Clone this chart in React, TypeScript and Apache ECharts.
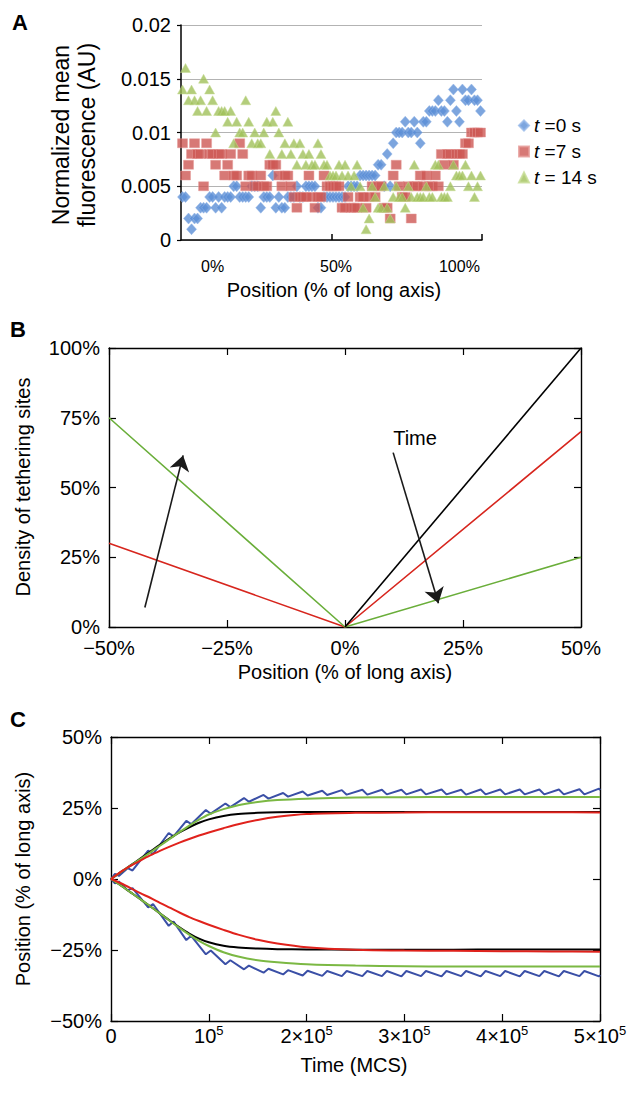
import React, { useEffect, useRef } from "react";
import * as echarts from "echarts";

const FONT = "'Liberation Sans', Arial, Helvetica, sans-serif";

// ---------- Panel A (Excel-style scatter, values in units of 0.001 AU) ----------
const aYTicks = [0, 0.005, 0.01, 0.015, 0.02];
const aYTickLabels = ["0", "0.005", "0.01", "0.015", "0.02"];
const aXLabelPos = [10, 51, 92];
const aXLabels = ["0%", "50%", "100%"];
const aXTickPos = [49.5, 99.5];
const aSeriesNames = ["t =0 s", "t =7 s", "t = 14 s"];

const aBlueMilli = [
  4, 4, 2, 1, 2, 2, 3, 3, 3, 4,
  4, 3, 4, 3, 4, 4, 4, 5, 5, 4,
  4, 4, 4, 5, 5, 5, 3, 4, 4, 4,
  6, 3, 4, 3, 3, 4, 4, 4, 5, 4,
  4, 5, 5, 5, 5, 3, 3, 4, 4, 4,
  4, 4, 4, 4, 4, 5, 5, 5, 5, 6,
  6, 6, 6, 6, 6, 7, 7, 5, 8, 5,
  9, 10, 10, 10, 11, 10, 10, 11, 10, 9,
  11, 11, 12, 12, 12, 13, 12, 12, 11, 13,
  14, 12, 11, 14, 13, 13, 14, 13, 13, 12,
];
const aRedMilli = [
  9, 6, 7, 8, 9, 8, 8, 5, 9, 8,
  8, 7, 8, 8, 6, 7, 8, 6, 6, 9,
  8, 5, 6, 6, 5, 5, 6, 5, 5, 7,
  7, 7, 6, 5, 6, 6, 5, 4, 3, 4,
  4, 4, 6, 4, 3, 4, 4, 6, 5, 5,
  5, 5, 5, 3, 3, 4, 3, 3, 3, 4,
  4, 3, 4, 5, 4, 5, 5, 3, 3, 2,
  6, 7, 5, 4, 4, 5, 2, 5, 5, 6,
  5, 6, 5, 5, 6, 5, 8, 7, 8, 8,
  7, 8, 8, 8, 9, 9, 10, 10, 10, 10,
];
const aGreenMilli = [
  14, 16, 13, 14, 13, 12, 13, 15, 12, 14,
  13, 10, 12, 12, 12, 11, 12, 9, 11, 10,
  10, 13, 11, 9, 10, 9, 9, 10, 11, 8,
  11, 12, 10, 8, 9, 11, 8, 9, 7, 9,
  8, 7, 8, 7, 7, 9, 8, 7, 7, 6,
  6, 6, 7, 6, 7, 6, 5, 6, 7, 5,
  3, 1, 2, 5, 4, 3, 3, 5, 3, 2,
  4, 5, 4, 4, 3, 5, 4, 7, 4, 4,
  4, 5, 4, 4, 7, 7, 4, 4, 4, 5,
  7, 6, 6, 6, 7, 5, 6, 4, 5, 6,
];

// ---------- Panel B (density of tethering sites, %) ----------
const bBlack = [[0, 0], [50, 100]];
const bRed = [[-50, 30], [0, 0], [50, 70]];
const bGreen = [[-50, 75], [0, 0], [50, 25]];
const bArrows = [
  [[-42.4, 7], [-34.3, 61.5]],
  [[10.2, 62.5], [19.8, 8.5]],
];

// ---------- Panel C (position vs time; time in units of 1e5 MCS) ----------
const cTime = [0, 0.1, 0.2, 0.3, 0.4, 0.5, 0.6, 0.7, 0.8, 0.9, 1.0, 1.15, 1.3, 1.5, 1.7, 2.0, 2.5, 3.0, 3.5, 4.0, 4.5, 5.0];
const cBlackUp = [0, 2.4, 4.8, 7.2, 9.6, 12, 14.3, 16.4, 18.2, 19.8, 21, 22.2, 22.9, 23.3, 23.5, 23.6, 23.6, 23.6, 23.6, 23.6, 23.6, 23.6];
const cGreenUp = [0, 2.4, 4.7, 7, 9.3, 11.7, 14.1, 16.5, 18.8, 20.9, 22.7, 24.6, 26, 27.1, 27.8, 28.3, 28.7, 28.8, 28.9, 28.9, 28.9, 28.9];
const cRedUp = [0, 2.5, 4.6, 6.5, 8.3, 9.9, 11.4, 12.8, 14.1, 15.3, 16.4, 17.9, 19.3, 20.8, 21.9, 22.9, 23.3, 23.4, 23.5, 23.5, 23.5, 23.4];
const cBlackDown = [0, -2.3, -4.7, -7.1, -9.6, -12.1, -14.6, -17, -19.2, -21, -22.3, -23.5, -24.1, -24.5, -24.7, -24.8, -24.9, -24.9, -24.9, -24.8, -24.8, -24.8];
const cRedDown = [0, -1.5, -3.2, -5, -6.6, -8.4, -10.1, -11.8, -13.4, -14.8, -16.1, -17.9, -19.6, -21.4, -22.7, -24, -24.9, -25.2, -25.3, -25.4, -25.5, -25.6];
const cGreenDown = [0, -2.3, -4.7, -7.1, -9.6, -12.1, -14.7, -17.2, -19.6, -21.8, -23.6, -25.8, -27.3, -28.6, -29.3, -30, -30.5, -30.7, -30.8, -30.8, -30.8, -30.8];
const cBlueUp = [
  [0, 0], [0.04, 1.8], [0.08, 1.1], [0.17, 3.8], [0.22, 3.0], [0.38, 10.0], [0.43, 8.8],
  [0.59, 16.2], [0.64, 15.0], [0.77, 20.5], [0.82, 19.3], [0.97, 24.3], [1.02, 23.0],
  [1.17, 26.6], [1.22, 25.3], [1.36, 28.5], [1.41, 27.2], [1.56, 29.6], [1.61, 28.3],
  [1.76, 30.3], [1.81, 29.0], [1.96, 30.8], [2.01, 29.4], [2.16, 31.1], [2.21, 29.6],
  [2.36, 31.3], [2.41, 29.7], [2.57, 31.4], [2.62, 29.7], [2.77, 31.4], [2.82, 29.8],
  [2.97, 31.4], [3.02, 29.8], [3.17, 31.5], [3.22, 29.8], [3.38, 31.5], [3.43, 29.8],
  [3.58, 31.4], [3.63, 29.7], [3.78, 31.5], [3.83, 29.8], [3.98, 31.5], [4.03, 29.8],
  [4.18, 31.5], [4.23, 29.8], [4.38, 31.5], [4.43, 29.8], [4.58, 31.5], [4.63, 29.8],
  [4.79, 31.6], [4.84, 29.8], [4.99, 31.8], [5.0, 31.3],
];
const cBlueDown = [
  [0, 0], [0.04, -1.5], [0.08, -0.9], [0.17, -4.0], [0.22, -3.2], [0.38, -10.0], [0.43, -8.8],
  [0.59, -16.5], [0.64, -15.0], [0.77, -21.5], [0.82, -20.0], [0.97, -26.5], [1.02, -25.2],
  [1.17, -30.0], [1.22, -28.6], [1.36, -31.8], [1.41, -30.5], [1.56, -33.0], [1.61, -31.6],
  [1.76, -33.6], [1.81, -32.1], [1.96, -34.0], [2.01, -32.3], [2.16, -34.1], [2.21, -32.4],
  [2.36, -34.2], [2.41, -32.4], [2.57, -34.2], [2.62, -32.4], [2.77, -34.2], [2.82, -32.4],
  [2.97, -34.3], [3.02, -32.4], [3.17, -34.2], [3.22, -32.4], [3.38, -34.3], [3.43, -32.4],
  [3.58, -34.2], [3.63, -32.4], [3.78, -34.3], [3.83, -32.4], [3.98, -34.2], [4.03, -32.4],
  [4.18, -34.3], [4.23, -32.4], [4.38, -34.2], [4.43, -32.4], [4.58, -34.3], [4.63, -32.4],
  [4.79, -34.2], [4.84, -32.4], [4.99, -34.3], [5.0, -33.8],
];

const pct = (v: number) => (v < 0 ? "\u2212" : "") + Math.abs(v) + "%";
const txt = { color: "#000", fontFamily: FONT };
const blackLine = (w: number) => ({ show: true, onZero: false, lineStyle: { color: "#000", width: w } });

function frameAxes(grid: number, min: number, max: number, interval: number, isX: boolean, labelCfg: any) {
  const tick = { show: true, inside: true, length: 7, lineStyle: { color: "#000", width: 1.2 } };
  const main: any = {
    gridIndex: grid, type: "value", min, max, interval,
    position: isX ? "bottom" : "left",
    axisLine: blackLine(1.4), axisTick: tick, axisLabel: labelCfg, splitLine: { show: false },
  };
  const mirror: any = {
    gridIndex: grid, type: "value", min, max, interval,
    position: isX ? "top" : "right",
    axisLine: blackLine(1.4), axisTick: tick, axisLabel: { show: false }, splitLine: { show: false },
  };
  return [main, mirror];
}

const supRich = {
  n: { fontSize: 20, lineHeight: 24, ...txt },
  s: { fontSize: 13, lineHeight: 11, verticalAlign: "top", ...txt },
};

export default function App() {
  const ref = useRef<HTMLDivElement>(null);
  useEffect(() => {
    if (!ref.current) return;
    const chart = echarts.init(ref.current, null, { renderer: "svg" });

    const lineS = (ai: number, data: any[], color: string, width: number, smooth: any = false) => ({
      type: "line", xAxisIndex: ai, yAxisIndex: ai, data, showSymbol: false, symbol: "none",
      smooth, lineStyle: { color, width }, silent: true, z: 3,
    });
    const zipT = (vals: number[]) => cTime.map((t, i) => [t, vals[i]]);

    const [bx, bxTop] = frameAxes(1, -50, 50, 25, true, { formatter: pct, fontSize: 20, margin: 11, ...txt });
    const [by, byRight] = frameAxes(1, 0, 100, 25, false, { formatter: pct, fontSize: 20, margin: 9, ...txt });
    const [cx, cxTop] = frameAxes(2, 0, 5, 1, true, {
      formatter: (v: number) => (v === 0 ? "{n|0}" : v === 1 ? "{n|10}{s|5}" : `{n|${v}\u00d710}{s|5}`),
      margin: 3, rich: supRich, ...txt,
    });
    const [cy, cyRight] = frameAxes(2, -50, 50, 25, false, { formatter: pct, fontSize: 20, margin: 9, ...txt });

    const option: any = {
      animation: false,
      backgroundColor: "#ffffff",
      grid: [
        { left: 181, top: 25, width: 301, height: 215 },
        { left: 109, top: 348, width: 472, height: 279 },
        { left: 111, top: 737, width: 489, height: 284 },
      ],
      xAxis: [
        {
          gridIndex: 0, type: "value", min: -0.5, max: 99.5,
          axisLine: blackLine(1.5),
          axisTick: { show: true, inside: true, length: 6, customValues: aXTickPos, lineStyle: { color: "#000", width: 1.5 } },
          axisLabel: {
            customValues: aXLabelPos,
            formatter: (v: number) => aXLabels[aXLabelPos.indexOf(v)] ?? "",
            fontSize: 16, margin: 18, ...txt,
          },
          splitLine: { show: false },
        },
        bx, bxTop, cx, cxTop,
      ],
      yAxis: [
        {
          gridIndex: 0, type: "value", min: 0, max: 0.02, interval: 0.005,
          axisLine: blackLine(1.5),
          axisTick: { show: true, length: 4, lineStyle: { color: "#000", width: 1.2 } },
          axisLabel: {
            formatter: (v: number) => aYTickLabels[aYTicks.findIndex((t) => Math.abs(t - v) < 1e-9)] ?? "",
            fontSize: 20, margin: 10, ...txt,
          },
          splitLine: { show: true, lineStyle: { color: "#b3b3b3", width: 1 } },
        },
        by, byRight, cy, cyRight,
      ],
      legend: {
        orient: "vertical", left: 513, top: 110, itemWidth: 10, itemHeight: 10, itemGap: 5,
        selectedMode: false,
        data: [
          { name: aSeriesNames[0], icon: "diamond" },
          { name: aSeriesNames[1], icon: "rect" },
          { name: aSeriesNames[2], icon: "triangle" },
        ],
        formatter: (n: string) => n.replace(/^t/, "{i|t}"),
        textStyle: {
          fontSize: 19, lineHeight: 21, ...txt,
          rich: { i: { fontStyle: "italic", fontSize: 19, lineHeight: 21, ...txt } },
        },
      },
      series: [
        {
          type: "scatter", name: aSeriesNames[0], xAxisIndex: 0, yAxisIndex: 0,
          symbol: "diamond", symbolSize: [10, 11],
          itemStyle: { color: "#5b8ed6", borderColor: "#93b6e8", borderWidth: 0.6 },
          data: aBlueMilli.map((v, i) => [i, v / 1000]),
        },
        {
          type: "scatter", name: aSeriesNames[1], xAxisIndex: 0, yAxisIndex: 0,
          symbol: "rect", symbolSize: [10, 9],
          itemStyle: { color: "#cd5854", borderColor: "#e59a97", borderWidth: 0.6 },
          data: aRedMilli.map((v, i) => [i, v / 1000]),
        },
        {
          type: "scatter", name: aSeriesNames[2], xAxisIndex: 0, yAxisIndex: 0,
          symbol: "triangle", symbolSize: [10, 9],
          itemStyle: { color: "#a0c05a", borderColor: "#c6dc94", borderWidth: 0.6 },
          data: aGreenMilli.map((v, i) => [i, v / 1000]),
        },
        lineS(1, bRed, "#d7261e", 1.6),
        lineS(1, bGreen, "#6aae3a", 1.6),
        lineS(1, bBlack, "#000000", 1.6),
        {
          type: "lines", coordinateSystem: "cartesian2d", xAxisIndex: 1, yAxisIndex: 1,
          symbol: ["none", "arrow"], symbolSize: 15, silent: true, z: 4,
          lineStyle: { color: "#1a1a1a", width: 1.6, opacity: 1 },
          data: bArrows.map((c) => ({ coords: c })),
        },
        lineS(3, cBlueUp, "#3a4fa6", 2),
        lineS(3, cBlueDown, "#3a4fa6", 2),
        lineS(3, zipT(cBlackUp), "#000000", 2, 0.3),
        lineS(3, zipT(cBlackDown), "#000000", 2, 0.3),
        lineS(3, zipT(cGreenUp), "#7bb843", 2, 0.3),
        lineS(3, zipT(cGreenDown), "#7bb843", 2, 0.3),
        lineS(3, zipT(cRedUp), "#e0221c", 2, 0.3),
        lineS(3, zipT(cRedDown), "#e0221c", 2, 0.3),
      ],
      graphic: [
        { type: "text", x: 20, y: 22, style: { text: "A", fontSize: 22, fontWeight: "bold", fontFamily: FONT, fill: "#000", align: "center", verticalAlign: "middle" } },
        { type: "text", x: 18, y: 329, style: { text: "B", fontSize: 22, fontWeight: "bold", fontFamily: FONT, fill: "#000", align: "center", verticalAlign: "middle" } },
        { type: "text", x: 18, y: 719, style: { text: "C", fontSize: 22, fontWeight: "bold", fontFamily: FONT, fill: "#000", align: "center", verticalAlign: "middle" } },
        { type: "text", x: 74, y: 135, rotation: Math.PI / 2, style: { text: "Normalized mean\nfluorescence (AU)", fontSize: 23, lineHeight: 26, fontFamily: FONT, fill: "#000", align: "center", verticalAlign: "middle" } },
        { type: "text", x: 334, y: 290, style: { text: "Position (% of long axis)", fontSize: 20, fontFamily: FONT, fill: "#000", align: "center", verticalAlign: "middle" } },
        { type: "text", x: 23, y: 487, rotation: Math.PI / 2, style: { text: "Density of tethering sites", fontSize: 20, fontFamily: FONT, fill: "#000", align: "center", verticalAlign: "middle" } },
        { type: "text", x: 345, y: 672, style: { text: "Position (% of long axis)", fontSize: 20, fontFamily: FONT, fill: "#000", align: "center", verticalAlign: "middle" } },
        { type: "text", x: 415, y: 438, style: { text: "Time", fontSize: 20, fontFamily: FONT, fill: "#000", align: "center", verticalAlign: "middle" } },
        { type: "text", x: 23, y: 879, rotation: Math.PI / 2, style: { text: "Position (% of long axis)", fontSize: 20, fontFamily: FONT, fill: "#000", align: "center", verticalAlign: "middle" } },
        { type: "text", x: 354, y: 1065, style: { text: "Time (MCS)", fontSize: 20, fontFamily: FONT, fill: "#000", align: "center", verticalAlign: "middle" } },
      ],
    };
    chart.setOption(option);
    return () => chart.dispose();
  }, []);
  return <div ref={ref} style={{ position: "absolute", left: 0, top: 0, width: 631, height: 1098 }} />;
}
